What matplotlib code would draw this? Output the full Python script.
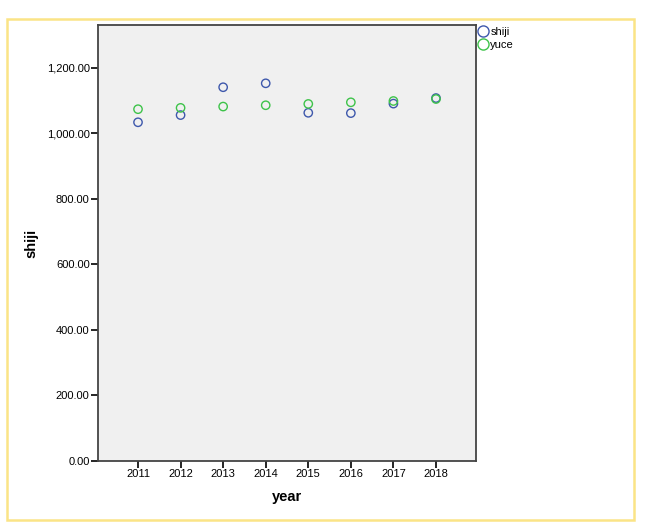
import numpy as np
import matplotlib
matplotlib.use('Agg')
import matplotlib.pyplot as plt
import matplotlib.patches as patches
from matplotlib.ticker import FuncFormatter
from matplotlib.lines import Line2D

plt.rcParams['font.family'] = ['Liberation Sans', 'DejaVu Sans']

# datos
years = [2011, 2012, 2013, 2014, 2015, 2016, 2017, 2018]
shiji = [1034, 1056, 1141, 1153, 1063, 1062, 1091, 1108]
yuce = [1074, 1078, 1082, 1086, 1090, 1095, 1099, 1105]
y_ticks = [0, 200, 400, 600, 800, 1000, 1200]

color_shiji = '#3e58ac'
color_yuce = '#3ec34a'

fig = plt.figure(figsize=(6.47, 5.26), dpi=100)
ax = fig.add_axes([98 / 647, 65 / 526, 378 / 647, 436 / 526])
ax.set_facecolor('#f0f0f0')

# borde amarillo alrededor de la figura
borde = patches.Rectangle((7 / 647, 6 / 526), 627 / 647, 501 / 526,
                          transform=fig.transFigure, fill=False,
                          edgecolor='#fbe486', linewidth=1.8)
fig.patches.append(borde)

ax.scatter(years, shiji, s=36, facecolors='none', edgecolors=color_shiji,
           linewidths=1.0, zorder=3)
ax.scatter(years, yuce, s=36, facecolors='none', edgecolors=color_yuce,
           linewidths=1.0, zorder=3)

ax.set_xlim(2010.06, 2018.94)
ax.set_ylim(0, 1331)
ax.set_xticks(years)
ax.set_yticks(y_ticks)
ax.yaxis.set_major_formatter(FuncFormatter(lambda v, p: f'{v:,.2f}'))

for s in ax.spines.values():
    s.set_color('#444444')
    s.set_linewidth(1.3)

ax.tick_params(axis='both', direction='out', length=5, width=1.2,
               color='black', labelsize=8, pad=1)

ax.set_xlabel('year', fontsize=10.5, fontweight='bold', labelpad=8)
ax.set_ylabel('shiji', fontsize=10.5, fontweight='bold', labelpad=6)

# leyenda fuera del area de dibujo
legend_elements = [
    Line2D([0], [0], marker='o', linestyle='none', markerfacecolor='none',
           markeredgecolor=color_shiji, markersize=8, label='shiji'),
    Line2D([0], [0], marker='o', linestyle='none', markerfacecolor='none',
           markeredgecolor=color_yuce, markersize=8, label='yuce'),
]
ax.legend(handles=legend_elements, loc='upper left', bbox_to_anchor=(1.0, 1.0),
          frameon=False, fontsize=8, handlelength=0.8, handletextpad=0.3,
          borderaxespad=0.1, borderpad=0.1, labelspacing=0.25)

fig.savefig('out.png', dpi=100)
